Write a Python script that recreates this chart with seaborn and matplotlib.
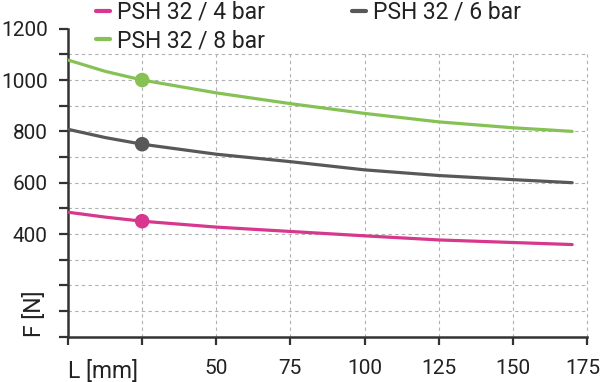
import matplotlib
matplotlib.use("Agg")
import matplotlib.pyplot as plt
import matplotlib.transforms as mtransforms
import seaborn as sns
import pandas as pd
import numpy as np

# ---- data ----
L_mm = [0, 12.5, 25, 50, 75, 100, 125, 150, 170]
F_4bar = [485, 466, 450, 427, 410, 393, 377, 367, 359]
F_6bar = [808, 776, 750, 711, 682, 650, 628, 612, 600]
F_8bar = [1078, 1034, 1000, 950, 908, 870, 837, 814, 800]
series_names = ["PSH 32 / 4 bar", "PSH 32 / 8 bar", "PSH 32 / 6 bar"]
marker_L = 25
x_ticks = [0, 25, 50, 75, 100, 125, 150, 175]
x_ticklabels = ["", "", "50", "75", "100", "125", "150", "175"]
y_ticks = list(range(0, 1300, 100))
y_ticklabels = ["", "", "", "", "400", "", "600", "", "800", "", "1000", "", "1200"]
x_label = "L [mm]"
y_label = "F [N]"

colors = {"PSH 32 / 4 bar": "#d8378e",
          "PSH 32 / 6 bar": "#58585a",
          "PSH 32 / 8 bar": "#86c155"}

frames = []
for name, vals in zip(series_names, [F_4bar, F_8bar, F_6bar]):
    frames.append(pd.DataFrame({"L": L_mm, "F": vals, "series": name}))
df = pd.concat(frames, ignore_index=True)
df_mark = df[df["L"] == marker_L]

sns.set_theme(style="white")
plt.rcParams["font.family"] = ["Roboto", "DejaVu Sans"]
FS = 15
LFS = 16.5
TXT = "#222222"

fig = plt.figure(figsize=(6.0, 3.82), dpi=100)
ax = fig.add_axes([68/600, 1 - 336.7/382, (587-68)/600, (336.7-28.7)/382])

# grid (dashed, limited to 0..1100 / 0..175)
ax.hlines(y_ticks[1:-1], x_ticks[0], x_ticks[-1], colors="#b0b0b0",
          linestyles=(0, (3, 3)), linewidth=0.8, zorder=0, clip_on=False)
ax.vlines(x_ticks[1:], y_ticks[0], y_ticks[-2], colors="#b0b0b0",
          linestyles=(0, (3, 3)), linewidth=0.8, zorder=0, clip_on=False)

sns.lineplot(data=df, x="L", y="F", hue="series", hue_order=series_names,
             palette=colors, linewidth=2.3, ax=ax, legend=True, zorder=3)
sns.scatterplot(data=df_mark, x="L", y="F", hue="series", hue_order=series_names,
                palette=colors, s=110, edgecolor="none", ax=ax, legend=False, zorder=4)

ax.set_xlim(x_ticks[0], x_ticks[-1])
ax.set_ylim(y_ticks[0], y_ticks[-1])
ax.set_xticks(x_ticks)
ax.set_xticklabels(x_ticklabels, fontsize=FS, color=TXT)
ax.set_yticks(y_ticks)
ax.set_yticklabels(y_ticklabels, fontsize=FS, color=TXT)
ax.set_xlabel("")
ax.set_ylabel("")
ax.tick_params(axis="both", direction="out", width=1.6, color="#333333",
               left=True, bottom=True)
ax.tick_params(axis="y", length=6.5, pad=8)
ax.tick_params(axis="x", length=6, pad=10)
for s in ["top", "right"]:
    ax.spines[s].set_visible(False)
for s in ["left", "bottom"]:
    ax.spines[s].set_color("#333333")
    ax.spines[s].set_linewidth(1.8)

# keep the last x tick label inside the canvas
last = ax.get_xticklabels()[-1]
last.set_transform(last.get_transform() +
                   mtransforms.ScaledTranslation(-4/100, 0, fig.dpi_scale_trans))

# axis labels placed in tick-label slots
ax.text(0, -0.077, x_label, transform=ax.get_xaxis_transform(), ha="left", va="top",
        fontsize=LFS, color=TXT)
ax.text(-0.0636, -0.005, y_label, transform=ax.get_yaxis_transform(), ha="center", va="bottom",
        rotation=90, fontsize=LFS, color=TXT)

handles, labels = ax.get_legend_handles_labels()
for h in handles:
    h.set_linewidth(3)
ax.legend(handles, labels, ncol=2, loc="upper left", bbox_to_anchor=(96/600, 1.0 - 1/382),
          bbox_transform=fig.transFigure, frameon=False, fontsize=LFS,
          handlelength=0.61, handletextpad=0.3, columnspacing=3.8,
          labelspacing=0.22, borderaxespad=0.0, borderpad=0.0,
          labelcolor=TXT)

fig.savefig("out.png", dpi=100)
